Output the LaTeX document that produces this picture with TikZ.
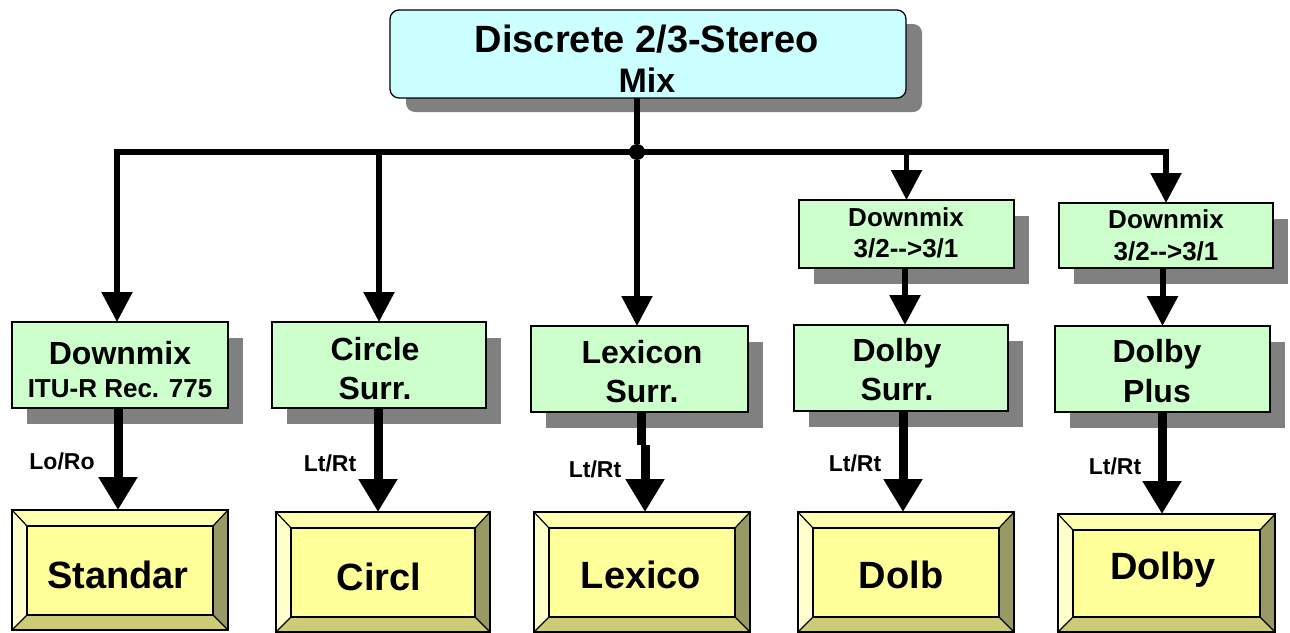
\documentclass[tikz,border=0pt]{standalone}
\usepackage{fontspec}
\setmainfont{Liberation Sans}
\usetikzlibrary{arrows.meta,fit}
\definecolor{greenf}{HTML}{CCFFCC}
\definecolor{cyanf}{HTML}{CCFFFF}
\definecolor{shadowc}{HTML}{808080}
\definecolor{bevface}{HTML}{FFFF99}
\definecolor{bevtop}{HTML}{FFFFB0}
\definecolor{bevleft}{HTML}{FFFFCC}
\definecolor{bevright}{HTML}{999966}
\definecolor{bevbot}{HTML}{CCCC77}
\tikzset{
  every node/.style={inner sep=0pt, outer sep=0pt},
  gboxst/.style={draw=black, line width=1.3pt, fill=greenf},
  shade/.style={fill=shadowc},
  txt/.style={anchor=base, font=\bfseries\fontsize{#1}{#1}\selectfont},
  busline/.style={line width=5.5pt, -{Triangle[width=30pt,length=30pt]}},
  busplain/.style={line width=6pt},
  twoarrow/.style={line width=5.5pt, {Triangle[width=30pt,length=30pt]}-{Triangle[width=30pt,length=30pt]}},
  midarrow/.style={line width=6pt, -{Triangle[width=30pt,length=30pt]}},
  bigline/.style={line width=9pt},
  bigarrow/.style={line width=9pt, -{Triangle[width=37pt,length=33pt]}},
  bevedge/.style={draw=black, line width=1.2pt},
}
\newcommand{\gbox}[5]{%
  \fill[shade] (#2+15,#3+16) rectangle (#4+15,#5+16);
  \node[gboxst, fit={(#2,#3) (#4,#5)}] (#1) {};
}
\newcommand{\ybox}[5]{%
  \fill[bevface] (#2,#3) rectangle (#4,#5);
  \fill[bevtop] (#2,#3) -- (#4,#3) -- (#4-15,#3+16) -- (#2+15,#3+16) -- cycle;
  \fill[bevleft] (#2,#3) -- (#2+15,#3+16) -- (#2+15,#5-15) -- (#2,#5) -- cycle;
  \fill[bevright] (#4,#3) -- (#4-15,#3+16) -- (#4-15,#5-15) -- (#4,#5) -- cycle;
  \fill[bevbot] (#2,#5) -- (#2+15,#5-15) -- (#4-15,#5-15) -- (#4,#5) -- cycle;
  \draw[bevedge] (#2+15,#3+16) rectangle (#4-15,#5-15);
  \draw[bevedge] (#2,#3) -- (#2+15,#3+16) (#4,#3) -- (#4-15,#3+16)
                 (#2,#5) -- (#2+15,#5-15) (#4,#5) -- (#4-15,#5-15);
  \node[bevedge, fit={(#2,#3) (#4,#5)}] (#1) {};
}
\begin{document}
\begin{tikzpicture}[x=1pt,y=-1pt]
\useasboundingbox (0,0) rectangle (1290,632);
\fill[white] (0,0) rectangle (1290,632);

% top box
\fill[shade, rounded corners=9pt] (406,24) rectangle (922,112);
\node[draw=black, line width=1.3pt, fill=cyanf, rounded corners=9pt, fit={(390,10) (906,98)}] (top) {};
\node[txt=38] (toptxt1) at (647,52) {Discrete 2/3-Stereo};
\node[txt=34] (toptxt2) at (647,92) {Mix};

% green boxes
\gbox{dm1}{799}{200}{1014}{268}
\gbox{dm2}{1059}{203}{1273}{268}
\gbox{b1}{12}{322}{228}{408}
\gbox{b2}{272}{322}{486}{408}
\gbox{b3}{531}{326}{748}{412}
\gbox{b4}{794}{325}{1008}{411}
\gbox{b5}{1055}{326}{1270}{412}

\node[txt=26] (dm1a) at (906,226) {Downmix};
\node[txt=26] (dm1b) at (906,257) {3/2-{}->3/1};
\node[txt=26] (dm2a) at (1166,228) {Downmix};
\node[txt=26] (dm2b) at (1166,260) {3/2-{}->3/1};
\node[txt=32] (b1a) at (120,364) {Downmix};
\node[txt=26] (b1b) at (120,397) {ITU-R Rec. 775};
\node[txt=32] (b2a) at (375,360) {Circle};
\node[txt=32] (b2b) at (375,399) {Surr.};
\node[txt=32] (b3a) at (642,363) {Lexicon};
\node[txt=32] (b3b) at (642,402) {Surr.};
\node[txt=32] (b4a) at (897,361) {Dolby};
\node[txt=32] (b4b) at (897,400) {Surr.};
\node[txt=32] (b5a) at (1157,362) {Dolby};
\node[txt=32] (b5b) at (1157,402) {Plus};

% yellow bevel boxes
\ybox{y1}{12}{510}{228}{630}
\ybox{y2}{276}{512}{490}{632}
\ybox{y3}{534}{512}{750}{632}
\ybox{y4}{798}{512}{1014}{632}
\ybox{y5}{1058}{514}{1275}{632}
\node[txt=38] (y1t) at (118,588) {Standar};
\node[txt=38] (y2t) at (379,590) {Circl};
\node[txt=38] (y3t) at (641,588) {Lexico};
\node[txt=38] (y4t) at (901,588) {Dolb};
\node[txt=38] (y5t) at (1163,579) {Dolby};

% bus
\coordinate (busL) at (117,152);
\coordinate (busR) at (1166,152);
\node[circle, fill=black, minimum size=16pt] (dot) at (637,152) {};
\draw[busplain] (top.south -| dot) -- (dot);
\draw[twoarrow] (busL |- b1.north) -- (busL) -- (busR) -- (busR |- dm2.north);
\draw[busline] (b2.north |- busL) -- (b2.north);
\draw[busline] (dot) -- (dot |- b3.north);
\draw[busline] (dm1.north |- busL) -- (dm1.north);

% downmix to dolby
\draw[midarrow] (dm1.south -| 905,0) -- (b4.north -| 905,0);
\draw[midarrow] (dm2.south -| b5.north) -- (b5.north);

% bottom arrows
\draw[bigarrow] (b1.south -| 118,0) -- (y1.north -| 118,0);
\draw[bigarrow] (b2.south -| 378,0) -- (y2.north -| 378,0);
\coordinate (jog) at (645,445);
\draw[bigline] (b3.south -| 641,0) -- (jog -| 641,0);
\draw[bigarrow] (jog) -- (jog |- y3.north);
\draw[bigarrow] (b4.south -| 903,0) -- (y4.north -| 903,0);
\draw[bigarrow] (b5.south -| 1162,0) -- (y5.north -| 1162,0);

% labels
\node[txt=23] (l1) at (62,469) {Lo/Ro};
\node[txt=23] (l2) at (330,471) {Lt/Rt};
\node[txt=23] (l3) at (595,477) {Lt/Rt};
\node[txt=23] (l4) at (855,471) {Lt/Rt};
\node[txt=23] (l5) at (1115,474) {Lt/Rt};
\end{tikzpicture}
\end{document}
